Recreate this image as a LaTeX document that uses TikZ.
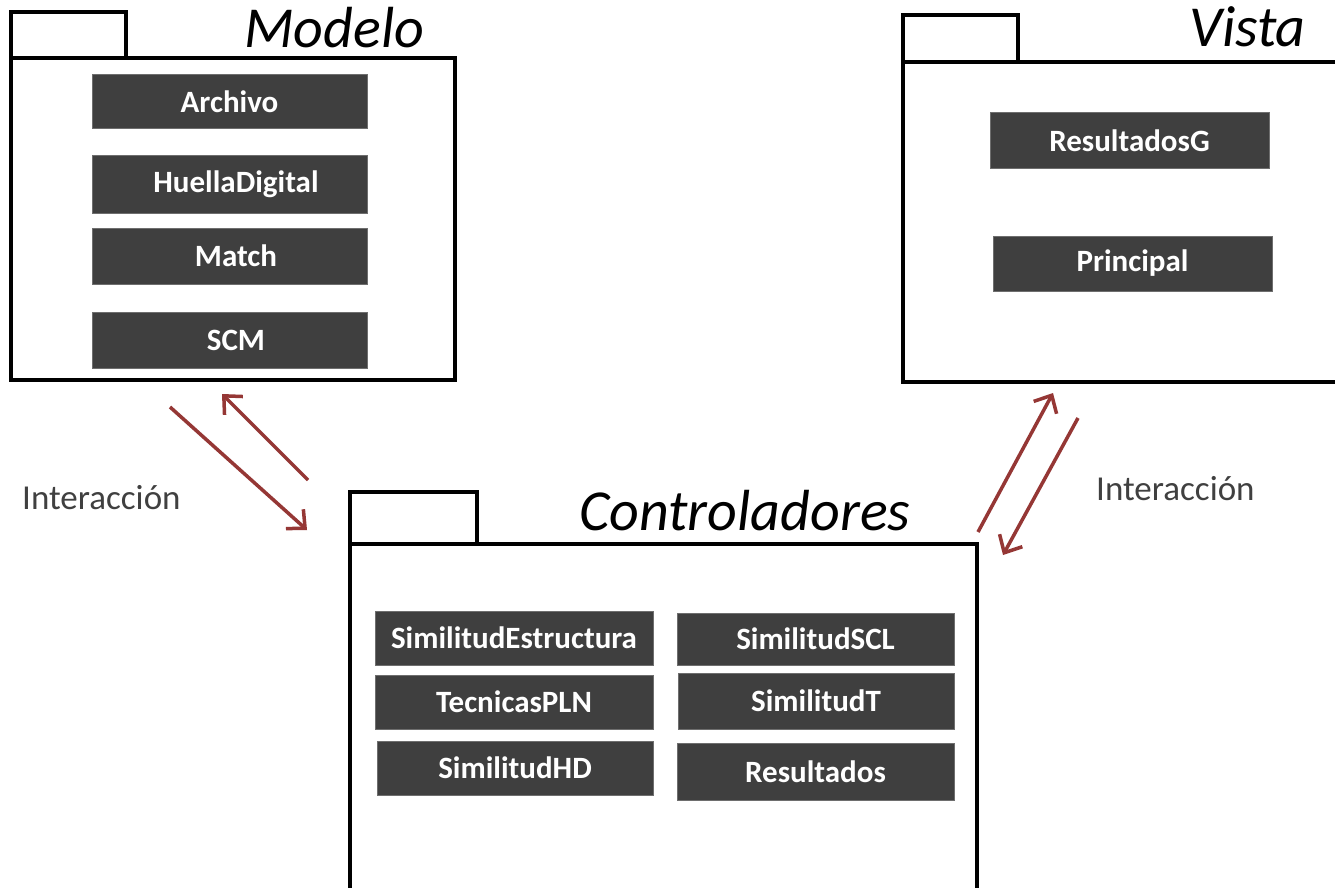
\documentclass[tikz,border=0pt]{standalone}
\usepackage{fontspec}
\setmainfont{Carlito}
\usetikzlibrary{arrows.meta}
\definecolor{clsfill}{HTML}{3F3F3F}
\definecolor{clsline}{HTML}{6E6E6E}
\definecolor{arrowred}{HTML}{953735}
\definecolor{labelgray}{HTML}{404040}
\tikzset{
  pkgline/.style={draw=black, line width=3.5pt},
  pkgtitle/.style={anchor=base west, inner sep=0pt, font=\fontsize{58}{62}\selectfont\itshape},
  cls/.style={draw=clsline, fill=clsfill, line width=1pt, text=white, inner sep=0pt,
    font=\fontsize{31}{34}\selectfont\bfseries},
  clsc/.style={cls, font=\fontsize{31}{34}\selectfont\bfseries},
  inter/.style={draw=arrowred, line width=3.5pt, -{Straight Barb[length=14pt,width=26pt,line width=3.5pt]}},
  interlabel/.style={text=labelgray, inner sep=0pt, font=\fontsize{35}{38}\selectfont}
}
\begin{document}
\begin{tikzpicture}[x=1pt,y=-1pt]
\useasboundingbox (0,0) rectangle (1335,888);
\fill[white] (0,0) rectangle (1335,888);
% Modelo package
\draw[pkgline] (11,12) rectangle (126,58);
\draw[pkgline] (11,58) rectangle (455,380);
\node[pkgtitle] (tmodelo) at (244,48) {Modelo};
\node[cls, minimum width=275pt, minimum height=54pt] (archivo) at (229.5,102) {Archivo};
\node[cls, minimum width=275pt, minimum height=58pt] (huella) at (229.5,184) {\hspace*{13pt}HuellaDigital};
\node[cls, minimum width=275pt, minimum height=56pt] (match) at (229.5,256) {\hspace*{13pt}Match};
\node[cls, minimum width=275pt, minimum height=56pt] (scm) at (229.5,340) {\hspace*{13pt}SCM};
% Vista package
\draw[pkgline] (903,15) rectangle (1018,62);
\draw[pkgline] (903,62) rectangle (1345,382);
\node[pkgtitle] (tvista) at (1189,47) {Vista};
\node[cls, minimum width=279pt, minimum height=55pt] (resg) at (1129.5,140.5) {ResultadosG};
\node[cls, minimum width=279pt, minimum height=55pt] (principal) at (1132.5,263.5) {Principal};
% Controladores package
\draw[pkgline] (350,492) rectangle (477,544);
\draw[pkgline] (350,544) rectangle (977,900);
\node[pkgtitle] (tcontrol) at (579,530) {Controladores};
\node[clsc, minimum width=278pt, minimum height=54pt] (sest) at (514,638) {SimilitudEstructura};
\node[clsc, minimum width=278pt, minimum height=54pt] (pln) at (514,702) {TecnicasPLN};
\node[clsc, minimum width=276pt, minimum height=54pt] (shd) at (515,768) {SimilitudHD};
\node[clsc, minimum width=277pt, minimum height=52pt] (sscl) at (815.5,639) {SimilitudSCL};
\node[clsc, minimum width=276pt, minimum height=56pt] (st) at (816,701) {SimilitudT};
\node[clsc, minimum width=277pt, minimum height=57pt] (res) at (815.5,771.5) {Resultados};
% Interaction arrows
\coordinate (a1s) at (170,407);
\coordinate (a1e) at (307,530);
\coordinate (a2s) at (308,480);
\coordinate (a2e) at (222,394);
\coordinate (b1s) at (978,532);
\coordinate (b1e) at (1053,393);
\coordinate (b2s) at (1078,418);
\coordinate (b2e) at (1003,555);
\draw[inter] (a1s) -- (a1e);
\draw[inter] (a2s) -- (a2e);
\draw[inter] (b1s) -- (b1e);
\draw[inter] (b2s) -- (b2e);
\node[interlabel, anchor=west] (lint) at (22,498) {Interacción};
\node[interlabel, anchor=west] (rint) at (1096,489) {Interacción};
\end{tikzpicture}
\end{document}
